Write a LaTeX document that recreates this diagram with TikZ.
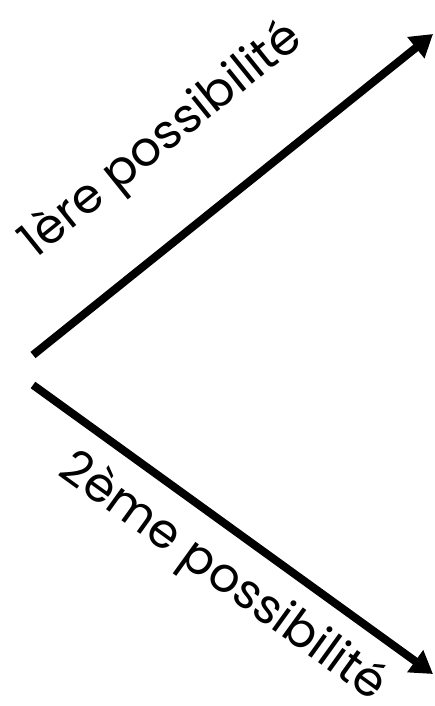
\documentclass[tikz,border=0pt]{standalone}
\usepackage{fontspec}
\setmainfont{Poppins}
\usetikzlibrary{arrows.meta}

\begin{document}
\begin{tikzpicture}[x=1pt, y=-1pt,
	fleche/.style={line width=8pt, -{Triangle[length=22pt, width=26pt]}},
	etiquette/.style={font=\fontsize{48}{48}\selectfont, inner sep=0pt}]
	% Bounding box and points:
	\useasboundingbox (0, 0) rectangle (434, 706);
	\coordinate (depart1) at (33, 355);
	\coordinate (fin1) at (433, 34);
	\coordinate (depart2) at (33, 385);
	\coordinate (fin2) at (433, 674);
	% Arrows and labels:
	\draw[fleche] (depart1) -- (fin1);
	\draw[fleche] (depart2) -- (fin2);
	\node[etiquette, rotate=38.8] (lab1) at (162, 141) {1ère possibilité};
	\node[etiquette, rotate=-35.8] (lab2) at (222, 578) {2ème possibilité};
\end{tikzpicture}
\end{document}
